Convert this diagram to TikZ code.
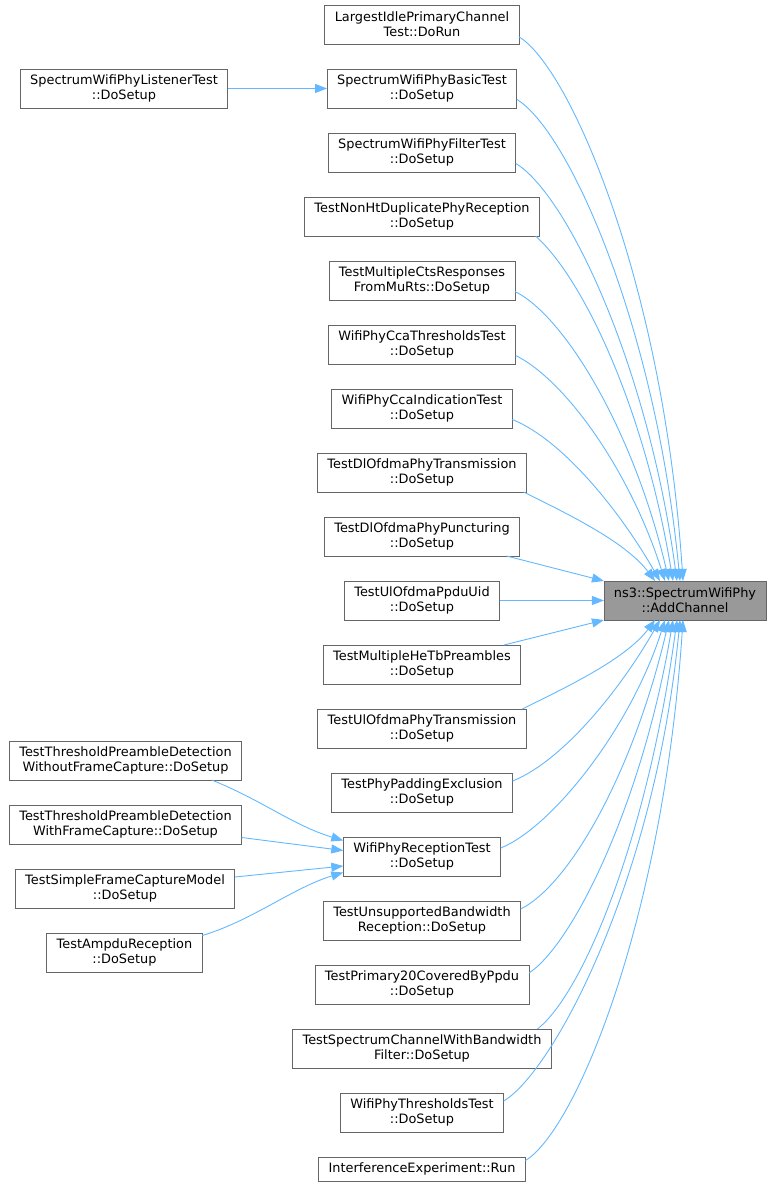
\documentclass[tikz,border=0pt]{standalone}
\usepackage{fontspec}
\setmainfont{DejaVu Sans}
\usetikzlibrary{positioning,arrows.meta}
\definecolor{edgeblue}{HTML}{63B8FF}
\definecolor{boxgray}{HTML}{666666}
\definecolor{mainfill}{HTML}{999999}
\tikzset{fn node/.style={draw=boxgray,line width=0.9pt,fill=#1,font=\fontsize{12.9}{15}\selectfont,align=center,minimum height=39pt,inner xsep=10pt,inner ysep=2pt,outer sep=0pt},
fn node/.default=white,
call/.style={draw=edgeblue,line width=0.9pt,-{Triangle[length=12pt,width=9pt]}}}

\begin{document}
\begin{tikzpicture}[x=1pt,y=1pt,node distance=25pt]
\useasboundingbox (0,0) rectangle (773,-1188);
\node[fn node=mainfill] (main) at (685,-600.5) {ns3::SpectrumWifiPhy\\::AddChannel};
% callers of AddChannel
\node[fn node] (n1) at (422,-24.5) {LargestIdlePrimaryChannel\\Test::DoRun};
\node[fn node] (n2) [below=of n1] {SpectrumWifiPhyBasicTest\\::DoSetup};
\node[fn node] (n3) [below=of n2] {SpectrumWifiPhyFilterTest\\::DoSetup};
\node[fn node] (n4) [below=of n3] {TestNonHtDuplicatePhyReception\\::DoSetup};
\node[fn node] (n5) [below=of n4] {TestMultipleCtsResponses\\FromMuRts::DoSetup};
\node[fn node] (n6) [below=of n5] {WifiPhyCcaThresholdsTest\\::DoSetup};
\node[fn node] (n7) [below=of n6] {WifiPhyCcaIndicationTest\\::DoSetup};
\node[fn node] (n8) [below=of n7] {TestDlOfdmaPhyTransmission\\::DoSetup};
\node[fn node] (n9) [below=of n8] {TestDlOfdmaPhyPuncturing\\::DoSetup};
\node[fn node] (n10) [below=of n9] {TestUlOfdmaPpduUid\\::DoSetup};
\node[fn node] (n11) [below=of n10] {TestMultipleHeTbPreambles\\::DoSetup};
\node[fn node] (n12) [below=of n11] {TestUlOfdmaPhyTransmission\\::DoSetup};
\node[fn node] (n13) [below=of n12] {TestPhyPaddingExclusion\\::DoSetup};
\node[fn node] (n14) [below=of n13] {WifiPhyReceptionTest\\::DoSetup};
\node[fn node] (n15) [below=of n14] {TestUnsupportedBandwidth\\Reception::DoSetup};
\node[fn node] (n16) [below=of n15] {TestPrimary20CoveredByPpdu\\::DoSetup};
\node[fn node] (n17) [below=of n16] {TestSpectrumChannelWithBandwidth\\Filter::DoSetup};
\node[fn node] (n18) [below=of n17] {WifiPhyThresholdsTest\\::DoSetup};
\node[fn node,minimum height=24pt] (n19) [below=of n18] {InterferenceExperiment::Run};
% second level callers
\node[fn node] (ls) at (124,-88.5) {SpectrumWifiPhyListenerTest\\::DoSetup};
\node[fn node] (wo) at (125.5,-760.5) {TestThresholdPreambleDetection\\WithoutFrameCapture::DoSetup};
\node[fn node] (wf) at (125.5,-824.5) {TestThresholdPreambleDetection\\WithFrameCapture::DoSetup};
\node[fn node] (sc) at (125,-888.5) {TestSimpleFrameCaptureModel\\::DoSetup};
\node[fn node] (am) at (124.5,-952.5) {TestAmpduReception\\::DoSetup};

\draw[call] (ls) -- (n2);
\draw[call] ([xshift=-30pt]wo.south east) .. controls +(50,-20) and +(-50,15) .. ([yshift=16pt]n14.west);
\draw[call] ([yshift=-13pt]wf.east) -- ([yshift=6pt]n14.west);
\draw[call] ([yshift=11.5pt]sc.east) -- ([yshift=-9.5pt]n14.west);
\draw[call] ([yshift=17pt]am.east) .. controls +(50,15) and +(-50,-15) .. ([yshift=-16pt]n14.west);

\draw[call] ([yshift=-12.5pt]n1.east) .. controls +(50,-30) and +(-20,300) .. ([xshift=-2pt]main.north);
\draw[call] ([yshift=-11pt]n2.east) .. controls +(50,-30) and +(-25,260) .. ([xshift=-5pt]main.north);
\draw[call] ([yshift=-11pt]n3.east) .. controls +(50,-30) and +(-30,220) .. ([xshift=-8pt]main.north);
\draw[call] ([xshift=-4pt]n4.south east) .. controls +(45,-40) and +(-30,180) .. ([xshift=-12pt]main.north);
\draw[call] ([yshift=-11pt]n5.east) .. controls +(50,-25) and +(-35,150) .. ([xshift=-16pt]main.north);
\draw[call] ([yshift=-11pt]n6.east) .. controls +(50,-25) and +(-35,110) .. ([xshift=-20pt]main.north);
\draw[call] ([yshift=-11pt]n7.east) .. controls +(50,-20) and +(-40,70) .. ([xshift=-25pt]main.north);
\draw[call] ([xshift=-3pt]n8.south east) .. controls +(40,-20) and +(-30,40) .. ([xshift=-30pt]main.north);
\draw[call] ([xshift=-13pt]n9.south east) -- (main.north west);
\draw[call] (n10) -- (main);
\draw[call] ([xshift=-17pt]n11.north east) -- (main.south west);
\draw[call] ([xshift=-4pt]n12.north east) .. controls +(40,20) and +(-30,-40) .. ([xshift=-30pt]main.south);
\draw[call] ([yshift=11.5pt]n13.east) .. controls +(50,20) and +(-40,-70) .. ([xshift=-25pt]main.south);
\draw[call] ([yshift=8.5pt]n14.east) .. controls +(50,20) and +(-35,-110) .. ([xshift=-20pt]main.south);
\draw[call] ([yshift=11.5pt]n15.east) .. controls +(50,25) and +(-35,-150) .. ([xshift=-16pt]main.south);
\draw[call] ([yshift=11.5pt]n16.east) .. controls +(45,30) and +(-30,-180) .. ([xshift=-12pt]main.south);
\draw[call] ([xshift=-14pt]n17.north east) .. controls +(45,35) and +(-30,-220) .. ([xshift=-8pt]main.south);
\draw[call] ([yshift=11.5pt]n18.east) .. controls +(50,30) and +(-25,-260) .. ([xshift=-5pt]main.south);
\draw[call] ([yshift=8.5pt]n19.east) .. controls +(50,30) and +(-20,-300) .. ([xshift=-2pt]main.south);
\end{tikzpicture}
\end{document}
